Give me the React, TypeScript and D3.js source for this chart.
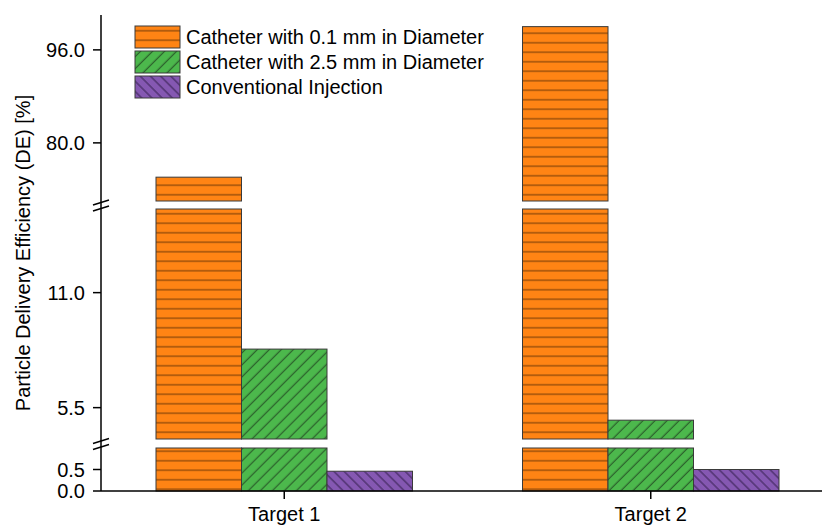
import React from "react";
import * as d3 from "d3";

const categories = ["Target 1", "Target 2"];
const seriesNames = [
  "Catheter with 0.1 mm in Diameter",
  "Catheter with 2.5 mm in Diameter",
  "Conventional Injection",
];
const catheter01 = [74.1, 100.0];
const catheter25 = [8.3, 4.9];
const conventional = [0.46, 0.5];
const yTicksBottom = [0.0, 0.5];
const yTicksMiddle = [5.5, 11.0];
const yTicksTop = [80.0, 96.0];

const W = 822;
const H = 525;
const axisX = 101;
const baseY = 491;
const FONT = "'Liberation Sans', Arial, sans-serif";

const segments = [
  { lo: 0, hi: 1, r0: 491, r1: 448, ticks: yTicksBottom },
  { lo: 4, hi: 15, r0: 439, r1: 209, ticks: yTicksMiddle },
  { lo: 70, hi: 102, r0: 201, r1: 15, ticks: yTicksTop },
].map((s) => ({ ...s, scale: d3.scaleLinear().domain([s.lo, s.hi]).range([s.r0, s.r1]) }));

const x = d3.scaleLinear().domain([0.5, 2.5]).range([axisX, axisX + 733]);
const barW = 85.5;

const series = [
  { name: seriesNames[0], values: catheter01, fill: "url(#pOrange)" },
  { name: seriesNames[1], values: catheter25, fill: "url(#pGreen)" },
  { name: seriesNames[2], values: conventional, fill: "url(#pPurple)" },
];

export default function App() {
  const bars: React.ReactNode[] = [];
  series.forEach((s, si) => {
    s.values.forEach((v, ci) => {
      const cx = x(ci + 1);
      const left = cx + (si - 1.5) * barW;
      segments.forEach((seg, gi) => {
        if (v <= seg.lo) return;
        const top = seg.scale(Math.min(v, seg.hi));
        const bot = seg.scale(seg.lo);
        bars.push(
          <rect
            key={`${si}-${ci}-${gi}`}
            x={left}
            y={top}
            width={barW}
            height={bot - top}
            fill={s.fill}
            stroke="#3a3a3a"
            strokeWidth={1}
          />
        );
      });
    });
  });

  const breakYs = [(segments[0].r1 + segments[1].r0) / 2, (segments[1].r1 + segments[2].r0) / 2];

  return (
    <svg
      width={W}
      height={H}
      style={{ position: "absolute", left: 0, top: 0, display: "block", background: "#fff" }}
      fontFamily={FONT}
    >
      <defs>
        <pattern id="pOrange" patternUnits="userSpaceOnUse" width={10} height={9.5}>
          <rect width={10} height={9.5} fill="#FF8414" />
          <line x1={0} x2={10} y1={4.75} y2={4.75} stroke="#6e3806" strokeWidth={1} />
        </pattern>
        <pattern id="pGreen" patternUnits="userSpaceOnUse" width={8.5} height={10} patternTransform="rotate(45)">
          <rect width={8.5} height={10} fill="#4CB84C" />
          <line x1={4} x2={4} y1={0} y2={10} stroke="#1e3f1e" strokeWidth={0.9} />
        </pattern>
        <pattern id="pPurple" patternUnits="userSpaceOnUse" width={7.2} height={10} patternTransform="rotate(-45)">
          <rect width={7.2} height={10} fill="#8558B2" />
          <line x1={3.6} x2={3.6} y1={0} y2={10} stroke="#2a1840" strokeWidth={0.9} />
        </pattern>
      </defs>

      {bars}

      {/* x axis */}
      <line x1={axisX} x2={W} y1={baseY} y2={baseY} stroke="#000" strokeWidth={1.5} />
      {categories.map((c, i) => (
        <g key={c}>
          <line x1={x(i + 1)} x2={x(i + 1)} y1={baseY} y2={baseY + 8} stroke="#000" strokeWidth={1.5} />
          <text x={x(i + 1)} y={521} textAnchor="middle" fontSize={20} fill="#000">
            {c}
          </text>
        </g>
      ))}

      {/* y axis */}
      <line x1={axisX} x2={axisX} y1={15} y2={baseY} stroke="#000" strokeWidth={1.5} />
      {segments.map((seg, gi) =>
        seg.ticks.map((t) => (
          <g key={`${gi}-${t}`}>
            <line x1={axisX - 8} x2={axisX} y1={seg.scale(t)} y2={seg.scale(t)} stroke="#000" strokeWidth={1.5} />
            <text x={85} y={seg.scale(t) + 7} textAnchor="end" fontSize={20} fill="#000">
              {t.toFixed(1)}
            </text>
          </g>
        ))
      )}
      {breakYs.map((by, i) => (
        <g key={i}>
          <line x1={axisX - 8} x2={axisX + 8} y1={by} y2={by - 5} stroke="#000" strokeWidth={1.5} />
          <line x1={axisX - 8} x2={axisX + 8} y1={by + 6} y2={by + 1} stroke="#000" strokeWidth={1.5} />
        </g>
      ))}

      <text
        transform={`translate(30, 253) rotate(-90)`}
        textAnchor="middle"
        fontSize={20}
        fill="#000"
      >
        Particle Delivery Efficiency (DE) [%]
      </text>

      {/* legend */}
      {series.map((s, i) => (
        <g key={s.name} transform={`translate(135, ${26 + i * 25})`}>
          <rect width={45} height={22} fill={s.fill} stroke="#3a3a3a" strokeWidth={1} />
          <text x={51} y={18} fontSize={20} fill="#000">
            {s.name}
          </text>
        </g>
      ))}
    </svg>
  );
}
